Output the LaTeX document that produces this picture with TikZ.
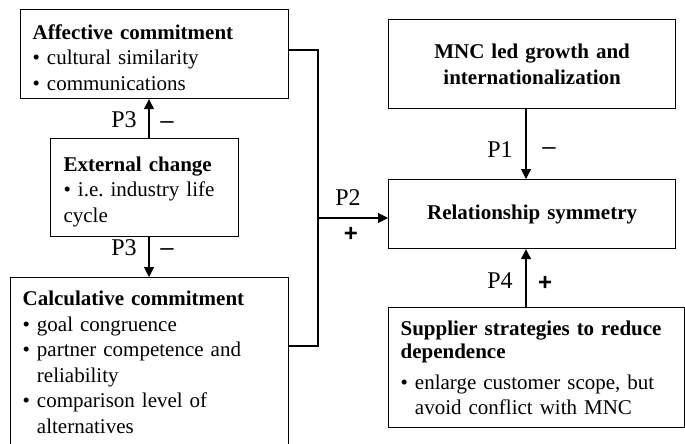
\documentclass[tikz,border=0pt]{standalone}
\usepackage{fontspec}
\setmainfont{Liberation Serif}
\newfontfamily\signfont{Liberation Sans}
\usetikzlibrary{arrows.meta}
\newcommand\bul{\textbullet\ }
\newcommand\bulsp{\hphantom{\textbullet\ }}
\frenchspacing
\begin{document}
\begin{tikzpicture}[x=0.5pt,y=-0.5pt,
  box/.style={draw, line width=0.6pt, anchor=north west, inner ysep=0pt,
    font=\fontsize{10.5}{12.75}\selectfont, align=left},
  cbox/.style={box, align=center},
  arr/.style={line width=0.55pt, -{Triangle[length=5pt,width=5pt]}},
  bracket/.style={line width=1.1pt},
  plab/.style={font=\fontsize{12}{14}\selectfont, inner sep=0pt},
  sgn/.style={font=\signfont\fontsize{12}{14}\selectfont, inner sep=0pt}]
\clip (0,0) rectangle (685,444);

% boxes
\node[box, inner xsep=6pt, text width=122pt, minimum height=44.5pt] (aff) at (20,9)
  {\rule{0pt}{10.7pt}\textbf{Affective commitment}\\ \bul cultural similarity\\ \bul communications};
\node[box, inner xsep=6.5pt, text width=81pt, minimum height=49pt] (ext) at (50,138)
  {\rule{0pt}{11.2pt}\textbf{External change}\\ \bul i.e. industry life\\ cycle};
\node[box, inner xsep=6pt, text width=127pt, minimum height=84.5pt] (calc) at (10,277)
  {\textbf{Calculative commitment}\\ \bul goal congruence\\ \bul partner competence and\\ \bulsp reliability\\ \bul comparison level of\\ \bulsp alternatives};
\node[cbox, inner xsep=6pt, text width=131.5pt, minimum height=44.5pt] (mnc) at (388,19)
  {\textbf{MNC led growth and}\\ \textbf{internationalization}};
\node[cbox, inner xsep=6pt, text width=131.5pt, minimum height=34.5pt] (rel) at (388,179)
  {\textbf{Relationship symmetry}};
\node[box, inner xsep=6pt, text width=136pt, minimum height=60pt] (sup) at (388,307)
  {\textbf{Supplier strategies to reduce}\\[-1pt] \textbf{dependence}\\[2.5pt] \bul enlarge customer scope, but\\ \bulsp avoid conflict with MNC};

% connectors
\coordinate (xa) at (149,0);
\coordinate (xb) at (526,0);
\draw[arr] (ext.north -| xa) -- (aff.south -| xa);
\draw[arr] (ext.south -| xa) -- (calc.north -| xa);
\draw[arr] (mnc.south -| xb) -- (rel.north -| xb);
\draw[arr] (sup.north -| xb) -- (rel.south -| xb);
\coordinate (ja) at (318,50);
\coordinate (jb) at (318,346);
\coordinate (jm) at (318,218);
\draw[bracket] (aff.east |- ja) -- (ja) -- (jb) -- (calc.east |- jb);
\draw[arr] (jm) -- (rel.west |- jm);

% labels
\node[plab, anchor=base east] (p3a) at (137,127) {P3};
\node[sgn] (m3a) at (167,125) {–};
\node[plab, anchor=base east] (p3b) at (137,255) {P3};
\node[sgn] (m3b) at (167,252) {–};
\node[plab, anchor=base east] (p1) at (513,157) {P1};
\node[sgn] (m1) at (549,151) {–};
\node[plab, anchor=base] (p2) at (348,205) {P2};
\node[sgn] (s2) at (351,234) {\textbf{+}};
\node[plab, anchor=base east] (p4) at (513,288) {P4};
\node[sgn] (s4) at (545,283) {\textbf{+}};
\end{tikzpicture}
\end{document}
